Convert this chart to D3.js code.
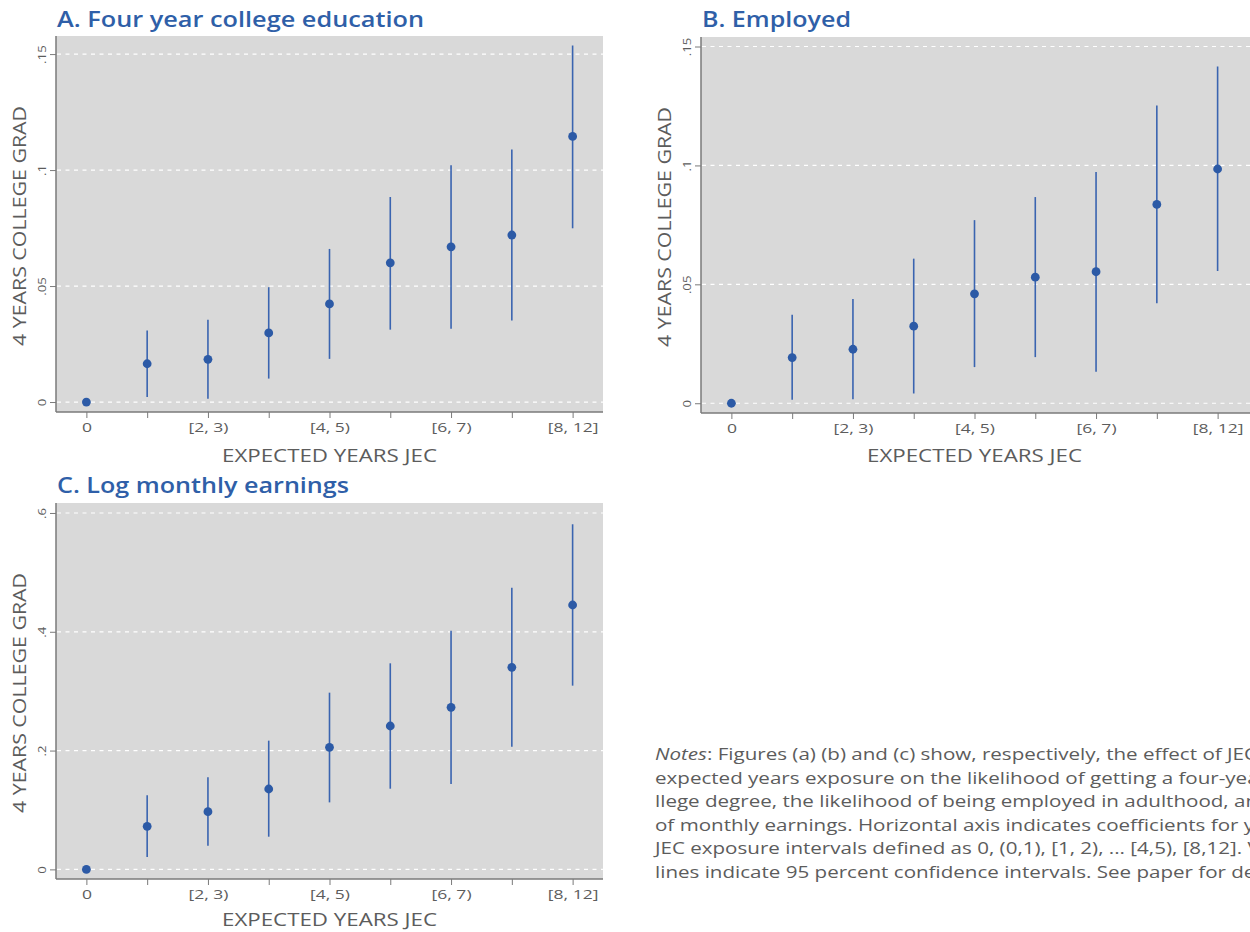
<!DOCTYPE html>
<html>
<head>
<meta charset="utf-8">
<script src="https://cdn.jsdelivr.net/npm/d3@7"></script>
<style>
  html, body { margin: 0; padding: 0; background: #ffffff; }
  svg { display: block; }
</style>
</head>
<body>
<svg id="chart" width="1250" height="932"></svg>
<script>
// ---------------- DATA ----------------
const categoryIndex = [0, 1, 2, 3, 4, 5, 6, 7, 8];
const categoryLabels = ["0", "", "[2, 3)", "", "[4, 5)", "", "[6, 7)", "", "[8, 12]"];

const collegeEst = [0, 0.0165, 0.0184, 0.0298, 0.0423, 0.0600, 0.0669, 0.0720, 0.1145];
const collegeLo  = [0, 0.0022, 0.0014, 0.0101, 0.0186, 0.0312, 0.0316, 0.0351, 0.0749];
const collegeHi  = [0, 0.0308, 0.0355, 0.0495, 0.0660, 0.0884, 0.1021, 0.1089, 0.1537];

const employedEst = [0, 0.0192, 0.0227, 0.0324, 0.0460, 0.0530, 0.0553, 0.0836, 0.0985];
const employedLo  = [0, 0.0015, 0.0017, 0.0041, 0.0152, 0.0194, 0.0132, 0.0421, 0.0556];
const employedHi  = [0, 0.0372, 0.0438, 0.0608, 0.0770, 0.0867, 0.0972, 0.1252, 0.1416];

const earningsEst = [0, 0.0724, 0.0971, 0.1353, 0.2054, 0.2414, 0.2728, 0.3402, 0.4451];
const earningsLo  = [0, 0.0208, 0.0399, 0.0550, 0.1128, 0.1358, 0.1437, 0.2066, 0.3093];
const earningsHi  = [0, 0.1246, 0.1549, 0.2167, 0.2975, 0.3469, 0.4019, 0.4743, 0.5810];

const smallTicks = [0, 0.05, 0.10, 0.15];
const smallTickLabels = ["0", ".05", ".1", ".15"];
const earningsTicks = [0, 0.2, 0.4, 0.6];
const earningsTickLabels = ["0", ".2", ".4", ".6"];

const titles = ["A. Four year college education", "B. Employed", "C. Log monthly earnings"];
const yAxisTitle = "4 YEARS COLLEGE GRAD";
const xAxisTitle = "EXPECTED YEARS JEC";

const noteLines = [
  "Figures (a) (b) and (c) show, respectively, the effect of JEC",
  "expected years exposure on the likelihood of getting a four-year co",
  "llege degree, the likelihood of being employed in adulthood, and log",
  "of monthly earnings. Horizontal axis indicates coefficients for years of",
  "JEC exposure intervals defined as 0, (0,1), [1, 2), ... [4,5), [8,12]. Vertical",
  "lines indicate 95 percent confidence intervals. See paper for details."
];

// ---------------- STYLE ----------------
const FONT = "'Open Sans', 'Noto Sans', sans-serif";
const BLUE = "#2c5aa6";
const TITLE_BLUE = "#2f5fa8";
const BG = "#d9d9d9";
const TEXT = "#5c5c5c";
const AXIS = "#7a7a7a";

const svg = d3.select("#chart");
svg.append("rect").attr("width", 1250).attr("height", 932).attr("fill", "#ffffff");

// measure helper
function measure(str, size, weight, style) {
  const t = svg.append("text").style("font-family", FONT).style("font-size", size + "px")
    .style("font-weight", weight || 400).style("font-style", style || "normal").text(str);
  const w = t.node().getComputedTextLength();
  t.remove();
  return w;
}
const tickScaleX = 40 / measure("[2, 3)", 13);

const panels = [
  { title: titles[0], titleW: 367, est: collegeEst, lo: collegeLo, hi: collegeHi,
    ticks: smallTicks, tickLabels: smallTickLabels, yDomain: [-0.0043, 0.1578],
    left: 56, right: 603, top: 36, bottom: 412, titleY: 27, yTitleX: 26, xTitleY: 462 },
  { title: titles[1], titleW: 149, est: employedEst, lo: employedLo, hi: employedHi,
    ticks: smallTicks, tickLabels: smallTickLabels, yDomain: [-0.0041, 0.1540],
    left: 701, right: 1248, top: 37, bottom: 413, titleY: 27, yTitleX: 671, xTitleY: 462 },
  { title: titles[2], titleW: 292, est: earningsEst, lo: earningsLo, hi: earningsHi,
    ticks: earningsTicks, tickLabels: earningsTickLabels, yDomain: [-0.0162, 0.6168],
    left: 56, right: 603, top: 503, bottom: 879, titleY: 493, yTitleX: 26, xTitleY: 926 }
];

panels.forEach(p => {
  const g = svg.append("g");
  const x = d3.scaleLinear().domain([-0.5, 8.5]).range([p.left, p.right]);
  const y = d3.scaleLinear().domain(p.yDomain).range([p.bottom, p.top]);

  g.append("rect")
    .attr("x", p.left).attr("y", p.top)
    .attr("width", (p.right > 1240 ? 1250 : p.right) - p.left).attr("height", p.bottom - p.top)
    .attr("fill", BG);

  g.selectAll(".grid").data(p.ticks).enter().append("line")
    .attr("x1", p.left + 1).attr("x2", p.right > 1240 ? 1250 : p.right)
    .attr("y1", d => y(d)).attr("y2", d => y(d))
    .attr("stroke", "#ffffff").attr("stroke-width", 1.2)
    .attr("stroke-dasharray", "4,4.5");

  // y axis
  const yAxis = d3.axisLeft(y).tickValues(p.ticks)
    .tickFormat((d, i) => p.tickLabels[i]).tickSize(6).tickPadding(0);
  const yg = g.append("g").attr("transform", `translate(${p.left},0)`).call(yAxis);
  yg.select(".domain").remove();
  yg.append("line").attr("x1", 0).attr("x2", 0).attr("y1", p.top).attr("y2", p.bottom)
    .attr("stroke", AXIS).attr("stroke-width", 1.5);
  yg.selectAll(".tick line").attr("stroke", AXIS).attr("stroke-width", 1);
  yg.selectAll(".tick text")
    .attr("x", 0).attr("y", 0).attr("dy", 0)
    .attr("transform", "translate(-13,0) rotate(-90) scale(1.15,1)")
    .attr("text-anchor", "middle").attr("dominant-baseline", "middle")
    .attr("fill", TEXT).style("font-family", FONT).style("font-size", "11.5px");

  // x axis
  const xAxis = d3.axisBottom(x).tickValues(categoryIndex)
    .tickFormat((d, i) => categoryLabels[i]).tickSize(6).tickPadding(5);
  const xg = g.append("g").attr("transform", `translate(0,${p.bottom})`).call(xAxis);
  xg.select(".domain").remove();
  xg.append("line").attr("x1", p.left).attr("x2", p.right > 1240 ? 1250 : p.right).attr("y1", 0).attr("y2", 0)
    .attr("stroke", AXIS).attr("stroke-width", 1.5);
  xg.selectAll(".tick line").attr("stroke", AXIS).attr("stroke-width", 1);
  xg.selectAll(".tick text").attr("fill", TEXT)
    .attr("transform", `scale(${tickScaleX},1)`)
    .style("font-family", FONT).style("font-size", "13px");

  // CI lines
  g.selectAll(".ci").data(categoryIndex.filter(i => p.hi[i] !== p.lo[i])).enter().append("line")
    .attr("x1", i => x(i)).attr("x2", i => x(i))
    .attr("y1", i => y(p.lo[i])).attr("y2", i => y(p.hi[i]))
    .attr("stroke", "#3a64b0").attr("stroke-width", 1.6);

  // points
  g.selectAll(".pt").data(categoryIndex).enter().append("circle")
    .attr("cx", i => x(i)).attr("cy", i => y(p.est[i])).attr("r", 4.4)
    .attr("fill", BLUE);

  // title
  g.append("text").attr("x", p.left + 1).attr("y", p.titleY)
    .attr("fill", TITLE_BLUE).style("font-family", FONT)
    .style("font-size", "21px").style("font-weight", 600)
    .attr("textLength", p.titleW).attr("lengthAdjust", "spacingAndGlyphs")
    .text(p.title);

  // y axis title
  g.append("text")
    .attr("transform", `translate(${p.yTitleX},${(p.top + p.bottom) / 2 + 2}) rotate(-90)`)
    .attr("text-anchor", "middle")
    .attr("fill", TEXT).style("font-family", FONT).style("font-size", "18.5px")
    .attr("textLength", 240).attr("lengthAdjust", "spacingAndGlyphs")
    .text(yAxisTitle);

  // x axis title
  g.append("text")
    .attr("x", (p.left + p.right) / 2).attr("y", p.xTitleY)
    .attr("text-anchor", "middle")
    .attr("fill", TEXT).style("font-family", FONT).style("font-size", "18.5px")
    .attr("textLength", 215).attr("lengthAdjust", "spacingAndGlyphs")
    .text(xAxisTitle);
});

// notes (wide font emulated by horizontal scale; the source crops these lines at the right edge)
const NOTE_SIZE = 15.5;
const noteRef = measure("Notes", NOTE_SIZE, 400, "italic") +
  measure(": Figures (a) (b) and (c) show, respectively, the effect of ", NOTE_SIZE);
const noteScale = 567 / noteRef;
const notes = svg.append("text").attr("fill", TEXT)
  .attr("transform", `translate(655,0) scale(${noteScale},1)`)
  .style("font-family", FONT).style("font-size", NOTE_SIZE + "px");
noteLines.forEach((line, i) => {
  const t = notes.append("tspan").attr("x", 0).attr("y", 760 + i * 23.6);
  if (i === 0) {
    t.append("tspan").style("font-style", "italic").text("Notes");
    t.append("tspan").text(": " + line);
  } else {
    t.text(line);
  }
});
</script>
</body>
</html>
